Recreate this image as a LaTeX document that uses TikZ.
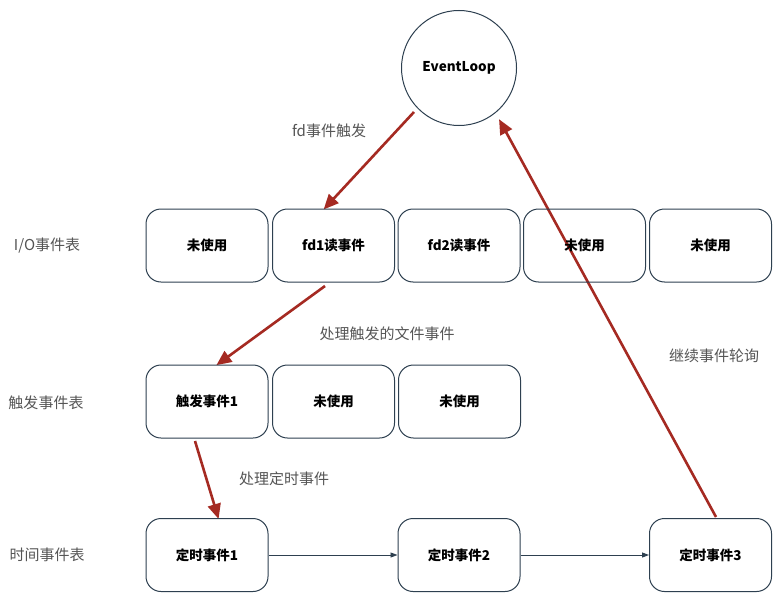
\documentclass[tikz,border=0pt]{standalone}
\usepackage{fontspec}
\setmainfont{Noto Sans CJK SC}
\usetikzlibrary{arrows.meta}
\definecolor{boxline}{HTML}{2E4050}
\definecolor{redarr}{HTML}{A52A22}
\definecolor{lbl}{HTML}{555555}
\tikzset{
  cell/.style={draw=boxline, line width=1pt, rounded corners=15pt, minimum width=122pt, minimum height=73pt, inner sep=0pt, font=\fontsize{13.5}{15}\selectfont\bfseries},
  rowlabel/.style={text=lbl, font=\fontsize{15}{17}\selectfont, inner sep=0pt},
  arrlabel/.style={text=lbl, font=\fontsize{15}{17}\selectfont, inner sep=0pt},
  redarrow/.style={draw=redarr, line width=2.6pt, -{Triangle[length=15pt,width=13pt]}, shorten >=-2pt},
  greyarrow/.style={draw=boxline, line width=0.9pt, -{Triangle[length=7pt,width=5pt]}},
}
\begin{document}
\begin{tikzpicture}[x=1pt,y=-1pt]
\useasboundingbox (0,0) rectangle (778,607);
\fill[white] (0,0) rectangle (778,607);
% coordinates for red arrow ends
\coordinate (s1) at (414,112);
\coordinate (e1) at (325,208);
\coordinate (s2) at (325,286);
\coordinate (e2) at (218,364);
\coordinate (s3) at (195,441);
\coordinate (e3) at (218,517);
\coordinate (s4) at (716,517);
\coordinate (e4) at (500,121);
\draw[redarrow] (s1) -- (e1);
\draw[redarrow] (s2) -- (e2);
\draw[redarrow] (s3) -- (e3);
\draw[redarrow] (s4) -- (e4);
% EventLoop
\node[draw=boxline, line width=1pt, circle, minimum size=115pt, inner sep=0pt, font=\fontsize{13.5}{15}\selectfont\bfseries] (loop) at (459,68) {EventLoop};
% I/O row
\node[cell] (io1) at (207,245.5) {未使用};
\node[cell] (io2) at (333.5,245.5) {fd1读事件};
\node[cell] (io3) at (459,245.5) {fd2读事件};
\node[cell] (io4) at (584.5,245.5) {未使用};
\node[cell] (io5) at (710.5,245.5) {未使用};
% triggered row
\node[cell] (tr1) at (207,401.5) {触发事件1};
\node[cell] (tr2) at (333.5,401.5) {未使用};
\node[cell] (tr3) at (459.5,401.5) {未使用};
% timer row
\node[cell] (tm1) at (207,555) {定时事件1};
\node[cell] (tm2) at (459,555) {定时事件2};
\node[cell] (tm3) at (710.5,555) {定时事件3};
% row labels
\node[rowlabel] (l1) at (47,246) {I/O事件表};
\node[rowlabel] (l2) at (46,403) {触发事件表};
\node[rowlabel] (l3) at (47,555) {时间事件表};
% arrow labels
\node[arrlabel] (a1) at (329,131) {fd事件触发};
\node[arrlabel] (a2) at (387,334) {处理触发的文件事件};
\node[arrlabel] (a3) at (284,479) {处理定时事件};
\node[arrlabel] (a4) at (714,356) {继续事件轮询};
\draw[greyarrow] (tm1) -- (tm2);
\draw[greyarrow] (tm2) -- (tm3);
\end{tikzpicture}
\end{document}
